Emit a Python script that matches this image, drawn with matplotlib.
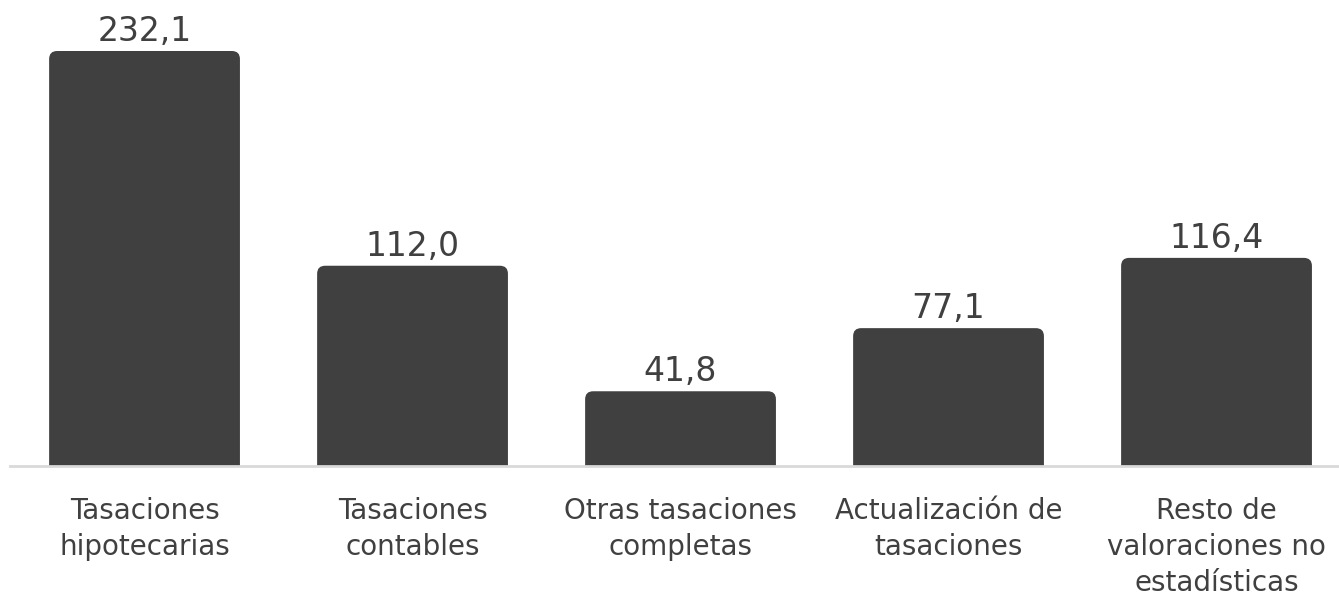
import matplotlib.pyplot as plt
from matplotlib.patches import FancyBboxPatch

categorias = ["Tasaciones\nhipotecarias", "Tasaciones\ncontables",
              "Otras tasaciones\ncompletas", "Actualización de\ntasaciones",
              "Resto de\nvaloraciones no\nestadísticas"]
valores = [232.1, 112.0, 41.8, 77.1, 116.4]
etiquetas = ["232,1", "112,0", "41,8", "77,1", "116,4"]

color_barra = "#404040"
color_texto = "#404040"

W, H = 1339, 599
fig = plt.figure(figsize=(W / 100, H / 100), dpi=100)
ax = fig.add_axes([10 / W, (H - 466) / H, (W - 10) / W, 466 / H])

ancho = 0.712
ax.set_xlim(-0.502, 4.457)
ax.set_ylim(0, 466 / 1.788)

# px por unidad para redondear esquinas igual en x e y
px_x = (W - 10) / (4.457 + 0.502)
px_y = 1.788
radio = 8 / px_x
extra = 20 / px_y  # se alarga por debajo de 0 y el eje lo recorta

for i, v in enumerate(valores):
    x0 = i - ancho / 2
    p = FancyBboxPatch((x0, -extra), ancho, v + extra,
                       boxstyle=f"round,pad=0,rounding_size={radio}",
                       mutation_aspect=px_x / px_y,
                       facecolor=color_barra, edgecolor="none", zorder=2)
    ax.add_patch(p)
    ax.text(i, v + 1.8, etiquetas[i], ha="center", va="bottom",
            fontsize=23.8, color=color_texto, family="DejaVu Sans")

ax.axhline(0, color="#d9d9d9", linewidth=2.0, zorder=3, clip_on=False)

ax.set_xticks(range(len(categorias)))
ax.set_xticklabels(categorias, fontsize=20, color=color_texto,
                   family="DejaVu Sans", linespacing=1.38)
ax.tick_params(axis="x", length=0, pad=22)
ax.set_yticks([])
for s in ax.spines.values():
    s.set_visible(False)

fig.savefig("out.png", dpi=100)
